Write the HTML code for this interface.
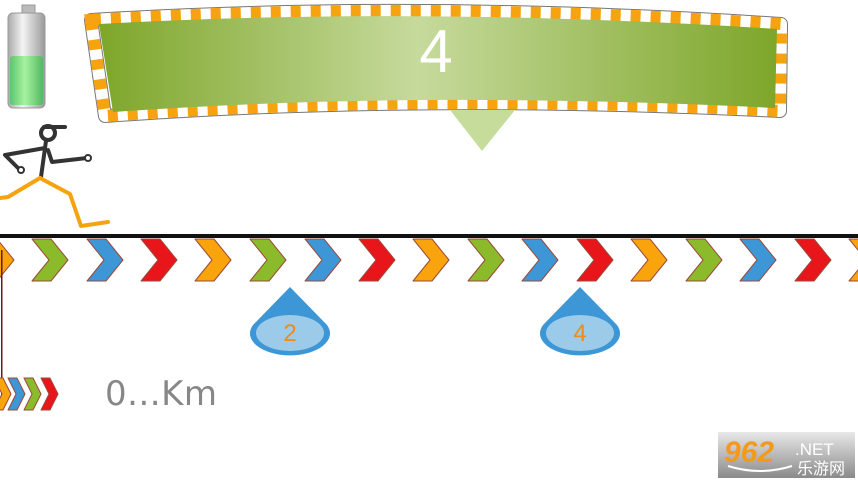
<!DOCTYPE html>
<html><head><meta charset="utf-8"><style>
html,body{margin:0;padding:0;background:#fff;width:858px;height:482px;overflow:hidden}
svg{display:block}
</style></head><body>
<svg width="858" height="482" viewBox="0 0 858 482" xmlns="http://www.w3.org/2000/svg">
<defs>
<linearGradient id="g" x1="0" x2="1" y1="0" y2="0">
<stop offset="0" stop-color="#7ea62a"/><stop offset="0.47" stop-color="#c6da9c"/><stop offset="1" stop-color="#7ea62a"/>
</linearGradient>
<linearGradient id="bat" x1="0" x2="1">
<stop offset="0" stop-color="#aaa"/><stop offset="0.4" stop-color="#f4f4f4"/><stop offset="1" stop-color="#999"/>
</linearGradient>
<linearGradient id="batg" x1="0" x2="1">
<stop offset="0" stop-color="#5dc46a"/><stop offset="0.45" stop-color="#a6f3a2"/><stop offset="1" stop-color="#55b860"/>
</linearGradient>
<linearGradient id="logo" x1="0" y1="0" x2="0" y2="1">
<stop offset="0" stop-color="#e8e8e8"/><stop offset="1" stop-color="#8a8a8a"/>
</linearGradient>
<path id="chev" d="M0,0 L19,0 L36,21 L19,42 L0,42 L17,21 Z"/>
<path id="sch" d="M0,0 L9,0 L17,16 L9,32 L0,32 L8,16 Z"/>
</defs>

<!-- battery -->
<rect x="22" y="5" width="13" height="10" fill="#bbb" stroke="#999"/>
<rect x="8" y="13" width="37" height="95" rx="5" fill="url(#bat)" stroke="#999"/>
<rect x="10" y="56" width="33" height="49" rx="3" fill="url(#batg)"/>

<!-- banner -->
<path d="M91,20 Q420,0 781,24 L780,111 Q420,93 105,116 Z" fill="none" stroke="#777" stroke-width="14" stroke-linejoin="round"/>
<path d="M91,20 Q420,0 781,24 L780,111 Q420,93 105,116 Z" fill="none" stroke="#fff" stroke-width="12" stroke-linejoin="round"/>
<path d="M91,20 Q420,0 781,24 L780,111 Q420,93 105,116 Z" fill="none" stroke="#f7a20f" stroke-width="12" stroke-dasharray="10 10"/>
<path d="M99,24 Q420,6 777,29 L775,108 Q420,90 113,112 Z" fill="url(#g)"/>
<text x="436" y="72" font-family="Liberation Sans, sans-serif" font-size="60" fill="#fff" text-anchor="middle">4</text>
<path d="M450,110 L515,110 L482,151 Z" fill="#c6dc9a"/>

<!-- stick figure -->
<g stroke="#333" stroke-width="4" fill="none" stroke-linecap="round" stroke-linejoin="round">
<circle cx="48" cy="133" r="7" fill="#fff"/>
<path d="M44,127 L65,127"/>
<path d="M46,141 L41,177"/>
<path d="M45,148 L5,155 L20,170"/>
<path d="M48,150 L52,162 L87,158"/>
</g>
<circle cx="21" cy="170" r="3" fill="#fff" stroke="#333" stroke-width="2"/>
<circle cx="88" cy="158" r="3" fill="#fff" stroke="#333" stroke-width="2"/>
<g stroke="#f5a310" stroke-width="4" fill="none" stroke-linecap="round" stroke-linejoin="round">
<path d="M40,178 L8,197 L0,198"/>
<path d="M40,178 L70,194 L81,226 L108,222"/>
</g>

<!-- line -->
<rect x="0" y="234" width="858" height="4" fill="#111"/>

<!-- chevrons -->
<g stroke="#9a4a3a" stroke-width="1" stroke-linejoin="round">
<use href="#chev" x="-22" y="239" fill="#f9a40c"/>
<use href="#chev" x="32" y="239" fill="#8bbb2a"/>
<use href="#chev" x="87" y="239" fill="#3d96d6"/>
<use href="#chev" x="141" y="239" fill="#e8151b"/>
<use href="#chev" x="195" y="239" fill="#f9a40c"/>
<use href="#chev" x="250" y="239" fill="#8bbb2a"/>
<use href="#chev" x="305" y="239" fill="#3d96d6"/>
<use href="#chev" x="359" y="239" fill="#e8151b"/>
<use href="#chev" x="413" y="239" fill="#f9a40c"/>
<use href="#chev" x="468" y="239" fill="#8bbb2a"/>
<use href="#chev" x="522" y="239" fill="#3d96d6"/>
<use href="#chev" x="577" y="239" fill="#e8151b"/>
<use href="#chev" x="631" y="239" fill="#f9a40c"/>
<use href="#chev" x="686" y="239" fill="#8bbb2a"/>
<use href="#chev" x="740" y="239" fill="#3d96d6"/>
<use href="#chev" x="795" y="239" fill="#e8151b"/>
<use href="#chev" x="849" y="239" fill="#f9a40c"/>
</g>

<!-- cones -->
<g>
<path d="M290,287 L253,325 A40,22 0 1,0 327,325 Z" fill="#3d96d6"/>
<ellipse cx="290" cy="333" rx="34" ry="18" fill="#9ccbea"/>
<text x="290" y="341" font-family="Liberation Sans, sans-serif" font-size="24" fill="#ef8a1c" text-anchor="middle">2</text>
<path d="M580,287 L543,325 A40,22 0 1,0 617,325 Z" fill="#3d96d6"/>
<ellipse cx="580" cy="333" rx="34" ry="18" fill="#9ccbea"/>
<text x="580" y="341" font-family="Liberation Sans, sans-serif" font-size="24" fill="#ef8a1c" text-anchor="middle">4</text>
</g>

<!-- vertical line -->
<rect x="1" y="250" width="1.5" height="160" fill="#6a1a1a"/>

<!-- small chevrons -->
<g stroke="#9a4a3a" stroke-width="1" stroke-linejoin="round">
<use href="#sch" x="-6" y="378" fill="#f9a40c"/>
<use href="#sch" x="8" y="378" fill="#3d96d6"/>
<use href="#sch" x="24" y="378" fill="#8bbb2a"/>
<use href="#sch" x="41" y="378" fill="#e8151b"/>
</g>
<text x="105" y="405" font-family="DejaVu Sans, sans-serif" font-size="34" fill="#878787" textLength="112">0...Km</text>

<!-- logo -->
<rect x="718" y="432" width="137" height="46" fill="url(#logo)"/>
<text x="724" y="462" font-family="Liberation Sans, sans-serif" font-size="30" font-weight="bold" font-style="italic" fill="#f39a1c">962</text>
<text x="795" y="455" font-family="Liberation Sans, sans-serif" font-size="17" fill="#fff">.NET</text>
<text x="797" y="474" font-family="Liberation Sans, 'Noto Sans CJK SC', sans-serif" font-size="16" fill="#fff">乐游网</text>
<path d="M728,466 Q760,476 792,466" stroke="#fff" stroke-width="2" fill="none"/>
</svg>
</body></html>
